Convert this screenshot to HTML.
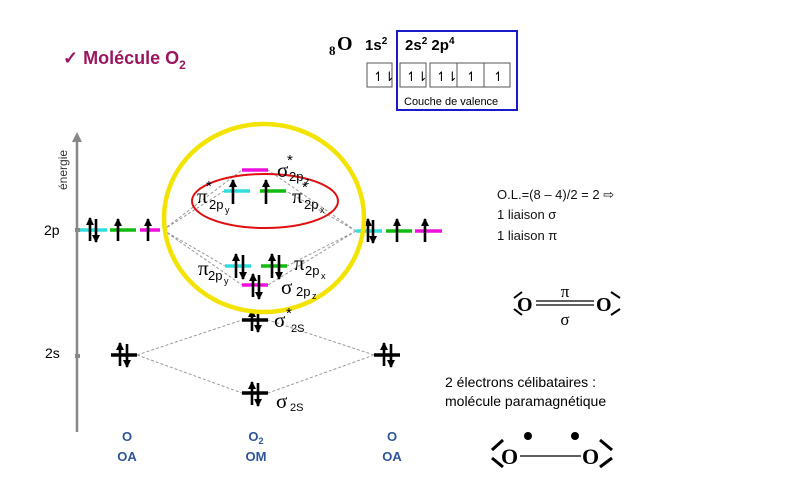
<!DOCTYPE html>
<html><head><meta charset="utf-8"><style>
html,body{margin:0;padding:0;background:#fff;}
svg{display:block;font-family:"Liberation Sans",sans-serif;}
.s{font-family:"Liberation Serif",serif;}
</style></head><body>
<svg width="786" height="488" viewBox="0 0 786 488" xmlns="http://www.w3.org/2000/svg">
<defs>
<marker id="ah" markerWidth="8" markerHeight="8" refX="7" refY="4" orient="auto" markerUnits="userSpaceOnUse"><path d="M0,0 L8,4 L0,8 z" fill="#000"/></marker>
</defs>
<text x="63" y="64" font-size="18" font-weight="bold" fill="#9b1660">✓ Molécule O<tspan font-size="12" dy="5">2</tspan></text>
<text x="329" y="55" class="s" font-size="13" font-weight="bold">8</text>
<text x="337" y="50" class="s" font-size="20" font-weight="bold">O</text>
<text x="365" y="50" font-size="15" font-weight="bold">1s<tspan font-size="10" dy="-6">2</tspan></text>
<rect x="397" y="31" width="120" height="79" fill="none" stroke="#1a1acc" stroke-width="2"/>
<text x="405" y="50" font-size="15" font-weight="bold">2s<tspan font-size="10" dy="-6">2</tspan><tspan dy="6"> 2p</tspan><tspan font-size="10" dy="-6">4</tspan></text>
<g fill="none" stroke="#555" stroke-width="1">
<rect x="367" y="63" width="25" height="24"/>
<rect x="400" y="63" width="26" height="24"/>
<rect x="430" y="63" width="80" height="24"/>
<line x1="457" y1="63" x2="457" y2="87"/><line x1="484" y1="63" x2="484" y2="87"/>
</g>
<g font-size="13" fill="#000">
<text x="373" y="81">↿⇂</text><text x="406" y="81">↿⇂</text><text x="436" y="81">↿⇂</text><text x="466" y="81">↿</text><text x="493" y="81">↿</text>
</g>
<text x="404" y="105" font-size="11">Couche de valence</text>
<line x1="77" y1="432" x2="77" y2="140" stroke="#888" stroke-width="2.5"/>
<path d="M72,142 L77,132 L82,142 z" fill="#888"/>
<text transform="translate(67,190) rotate(-90)" font-size="12" fill="#333">énergie</text>
<text x="44" y="235" font-size="14">2p</text>
<text x="45" y="358" font-size="14">2s</text>
<rect x="75" y="228" width="5" height="4" fill="#888"/><rect x="75" y="354" width="5" height="4" fill="#888"/>
<g stroke="#999" stroke-width="1" stroke-dasharray="3,2" fill="none">
<path d="M163,230 L242,170 M163,230 L224,191 M163,230 L225,266 M163,230 L242,285"/>
<path d="M356,231 L268,170 M356,231 L286,191 M356,231 L287,266 M356,231 L268,285"/>
<path d="M137,355 L242,320 M137,355 L242,393 M374,355 L268,320 M374,355 L268,393"/>
</g>
<g stroke-width="3.5">
<line x1="80" y1="230" x2="107" y2="230" stroke="#33dddd"/>
<line x1="110" y1="230" x2="136" y2="230" stroke="#11bb11"/>
<line x1="140" y1="230" x2="160" y2="230" stroke="#ee11dd"/>
<line x1="356" y1="231" x2="382" y2="231" stroke="#33dddd"/>
<line x1="386" y1="231" x2="412" y2="231" stroke="#11bb11"/>
<line x1="415" y1="231" x2="442" y2="231" stroke="#ee11dd"/>
<line x1="242" y1="170" x2="268" y2="170" stroke="#ee11dd"/>
<line x1="224" y1="191" x2="250" y2="191" stroke="#33dddd"/>
<line x1="260" y1="191" x2="286" y2="191" stroke="#11bb11"/>
<line x1="225" y1="266" x2="251" y2="266" stroke="#33dddd"/>
<line x1="261" y1="266" x2="287" y2="266" stroke="#11bb11"/>
<line x1="242" y1="285" x2="268" y2="285" stroke="#ee11dd"/>
<line x1="242" y1="320" x2="268" y2="320" stroke="#000"/>
<line x1="242" y1="393" x2="268" y2="393" stroke="#000"/>
<line x1="111" y1="355" x2="137" y2="355" stroke="#000"/>
<line x1="374" y1="355" x2="400" y2="355" stroke="#000"/>
</g>
<g stroke="#000" stroke-width="2.6">
<line x1="90" y1="241" x2="90" y2="218" marker-end="url(#ah)"/><line x1="96" y1="219" x2="96" y2="242" marker-end="url(#ah)"/>
<line x1="118" y1="241" x2="118" y2="219" marker-end="url(#ah)"/>
<line x1="148" y1="241" x2="148" y2="219" marker-end="url(#ah)"/>
<line x1="368" y1="242" x2="368" y2="219" marker-end="url(#ah)"/><line x1="373" y1="220" x2="373" y2="243" marker-end="url(#ah)"/>
<line x1="397" y1="242" x2="397" y2="219" marker-end="url(#ah)"/>
<line x1="425" y1="242" x2="425" y2="219" marker-end="url(#ah)"/>
<line x1="233" y1="204" x2="233" y2="180" marker-end="url(#ah)"/>
<line x1="266" y1="204" x2="266" y2="180" marker-end="url(#ah)"/>
<line x1="236" y1="278" x2="236" y2="254" marker-end="url(#ah)"/><line x1="243" y1="255" x2="243" y2="279" marker-end="url(#ah)"/>
<line x1="272" y1="278" x2="272" y2="254" marker-end="url(#ah)"/><line x1="279" y1="255" x2="279" y2="279" marker-end="url(#ah)"/>
<line x1="253" y1="297" x2="253" y2="274" marker-end="url(#ah)"/><line x1="259" y1="275" x2="259" y2="299" marker-end="url(#ah)"/>
<line x1="252" y1="331" x2="252" y2="310" marker-end="url(#ah)"/><line x1="258" y1="311" x2="258" y2="332" marker-end="url(#ah)"/>
<line x1="252" y1="405" x2="252" y2="382" marker-end="url(#ah)"/><line x1="258" y1="383" x2="258" y2="406" marker-end="url(#ah)"/>
<line x1="120" y1="366" x2="120" y2="343" marker-end="url(#ah)"/><line x1="127" y1="344" x2="127" y2="367" marker-end="url(#ah)"/>
<line x1="384" y1="366" x2="384" y2="343" marker-end="url(#ah)"/><line x1="391" y1="344" x2="391" y2="367" marker-end="url(#ah)"/>
</g>
<ellipse cx="264" cy="218" rx="100" ry="94" fill="none" stroke="#f2e400" stroke-width="4.5"/>
<ellipse cx="265" cy="201" rx="73" ry="27" fill="none" stroke="#e01010" stroke-width="2"/>
<g class="s" font-size="21">
<text x="277" y="177">σ</text><text x="197" y="203">π</text><text x="292" y="203">π</text>
<text x="198" y="275">π</text><text x="294" y="270">π</text><text x="281" y="294">σ</text>
<text x="274" y="327">σ</text><text x="276" y="408">σ</text>
</g>
<g font-size="13">
<text x="287" y="165" font-size="15">*</text><text x="289" y="181">2p</text><text x="305" y="184" font-size="9">z</text>
<text x="206" y="191" font-size="15">*</text><text x="209" y="209">2p</text><text x="225" y="213" font-size="9">y</text>
<text x="302" y="192" font-size="15">*</text><text x="304" y="209">2p</text><text x="320" y="213" font-size="9">x</text>
<text x="208" y="280">2p</text><text x="224" y="284" font-size="9">y</text>
<text x="305" y="275">2p</text><text x="321" y="279" font-size="9">x</text>
<text x="296" y="296">2p</text><text x="312" y="299" font-size="9">z</text>
<text x="286" y="318" font-size="15">*</text><text x="291" y="332" font-size="11">2S</text>
<text x="290" y="411" font-size="11">2S</text>
</g>
<g font-size="13" font-weight="bold" fill="#2f5597" text-anchor="middle">
<text x="127" y="441">O</text><text x="127" y="461">OA</text>
<text x="256" y="441">O<tspan font-size="9" dy="3">2</tspan></text><text x="256" y="461">OM</text>
<text x="392" y="441">O</text><text x="392" y="461">OA</text>
</g>
<g font-size="13" fill="#111">
<text x="497" y="199">O.L.=(8 – 4)/2 = 2 ⇨</text>
<text x="497" y="219">1 liaison σ</text>
<text x="497" y="240">1 liaison π</text>
</g>
<g class="s" font-size="20" font-weight="bold">
<text x="517" y="311">O</text><text x="596" y="311">O</text>
</g>
<g stroke="#000" stroke-width="2">
<path d="M522,292 L514,298 M514,309 L522,315"/>
<path d="M611,292 L620,298 M620,309 L611,315"/>
<line x1="536" y1="301" x2="594" y2="301" stroke-width="1.2"/><line x1="536" y1="305" x2="594" y2="305" stroke-width="1.2"/>
</g>
<text x="565" y="297" class="s" font-size="17" text-anchor="middle">π</text>
<text x="565" y="325" class="s" font-size="17" text-anchor="middle">σ</text>
<text x="445" y="387" font-size="14">2 électrons célibataires :</text>
<text x="445" y="406" font-size="14">molécule paramagnétique</text>
<g class="s" font-size="22" font-weight="bold">
<text x="501" y="464">O</text><text x="582" y="464">O</text>
</g>
<circle cx="528" cy="436" r="4"/><circle cx="575" cy="436" r="4"/>
<line x1="520" y1="456" x2="581" y2="456" stroke="#000" stroke-width="1.2"/>
<g stroke="#000" stroke-width="3">
<path d="M503,440 L492,450 M492,458 L503,467"/>
<path d="M600,440 L612,450 M612,458 L600,467"/>
</g>
</svg>
</body></html>
